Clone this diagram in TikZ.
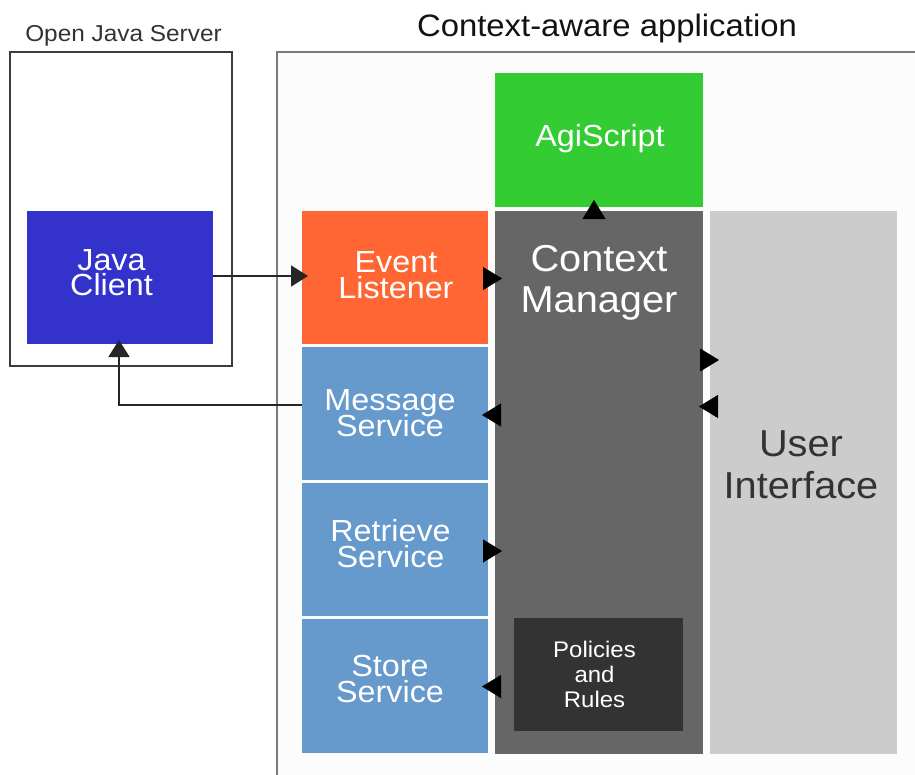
\documentclass[tikz,border=0pt]{standalone}
\usepackage{fontspec}
\setmainfont{Liberation Sans}[FakeStretch=1.06]
\usetikzlibrary{arrows.meta}

\definecolor{clientblue}{HTML}{3333CC}
\definecolor{agigreen}{HTML}{33CC33}
\definecolor{listenerorange}{HTML}{FF6633}
\definecolor{serviceblue}{HTML}{6699CC}
\definecolor{managergray}{HTML}{666666}
\definecolor{uigray}{HTML}{CCCCCC}
\definecolor{policydark}{HTML}{333333}
\definecolor{appfill}{HTML}{FCFCFC}
\definecolor{appline}{HTML}{7A7A7A}
\definecolor{serverline}{HTML}{3C3C3C}
\definecolor{uitext}{HTML}{333333}

% tight leading: let lines sit closer than their glyph boxes allow
\newcommand{\fsBox}{\fontsize{30.5}{25.5}\selectfont\lineskiplimit=-100pt}
\newcommand{\fsBig}{\fontsize{37.5}{40.5}\selectfont\lineskiplimit=-100pt}
\newcommand{\fsUI}{\fontsize{37.5}{42}\selectfont\lineskiplimit=-100pt}
\newcommand{\fsSmall}{\fontsize{22.6}{25}\selectfont\lineskiplimit=-100pt}
\newcommand{\fsTitle}{\fontsize{31}{36}\selectfont}
\newcommand{\fsServer}{\fontsize{23}{27}\selectfont}

\begin{document}
\begin{tikzpicture}[x=1pt,y=-1pt,
  block/.style={inner sep=0pt, outer sep=0pt, draw=none},
  lbl/.style={inner sep=0pt, align=center, text=white},
  head/.style={line width=0.4pt, -{Triangle[length=19pt,width=23pt]}},
  link/.style={draw=black!85, line width=1.9pt, -{Triangle[length=17pt,width=21pt]}}]

\useasboundingbox[fill=white] (0,0) rectangle (915,774);

% application frame: open to the right and bottom
\begin{scope}
  \clip (0,0) rectangle (915,774);
  \fill[appfill] (277,52) rectangle (930,790);
  \draw[appline, line width=2pt] (930,52) -- (277,52) -- (277,790);
\end{scope}
\node[font=\fsTitle, text=black!93, inner sep=0pt] (apptitle) at (607,28) {Context-aware application};

% server frame
\node[block, draw=serverline, line width=2pt, minimum width=222pt, minimum height=314pt] (server) at (121,209) {};
\node[font=\fsServer, text=uitext, inner sep=0pt] (servertitle) at (123.5,35.5) {Open Java Server};

% blocks
\node[block, fill=clientblue, minimum width=186pt, minimum height=133pt] (jc) at (120,277.5) {};
\node[block, fill=agigreen, minimum width=208pt, minimum height=134pt] (agi) at (599,140) {};
\node[block, fill=listenerorange, minimum width=186pt, minimum height=133pt] (el) at (395,277.5) {};
\node[block, fill=managergray, minimum width=208pt, minimum height=543pt] (cm) at (599,482.5) {};
\node[block, fill=uigray, minimum width=187pt, minimum height=543pt] (ui) at (803.5,482.5) {};
\node[block, fill=serviceblue, minimum width=186pt, minimum height=133pt] (ms) at (395,413.5) {};
\node[block, fill=serviceblue, minimum width=186pt, minimum height=133pt] (rs) at (395,549.5) {};
\node[block, fill=serviceblue, minimum width=186pt, minimum height=134pt] (ss) at (395,686) {};
\node[block, fill=policydark, minimum width=169pt, minimum height=113pt] (pr) at (598.5,674.5) {};

% block texts
\node[lbl, font=\fsBox] (jctext) at (111.5,272.5) {Java\\Client};
\node[lbl, font=\fsBox] (eltext) at (396,275) {Event\\Listener};
\node[lbl, font=\fsBox] (mstext) at (390,413) {Message\\Service};
\node[lbl, font=\fsBox] (rstext) at (390.5,543.5) {Retrieve\\Service};
\node[lbl, font=\fsBox] (sstext) at (390,679) {Store\\Service};
\node[lbl, font=\fsBox] (agitext) at (600,138.5) {AgiScript};
\node[lbl, font=\fsBig] (cmtext) at (599,282.7) {Context\\Manager};
\node[lbl, font=\fsUI, text=uitext] (uitext) at (801,464.5) {User\\Interface};
\node[lbl, font=\fsSmall] (prtext) at (594.5,674.5) {Policies\\and\\Rules};

% connectors to and from the server
\draw[link, shorten >=-6pt] ([yshift=1.5pt]jc.east) -- ([yshift=1.5pt]el.west);
\draw[link, shorten >=-4pt] ([yshift=8.5pt]ms.west) -| ([xshift=-1pt]jc.south);

% arrowheads between adjacent blocks
\draw[head, shorten >=-7pt] (el.east |- 0,278.5) -- (cm.west |- 0,278.5);
\draw[head, shorten >=-7pt] (cm.north -| 594,0) -- (agi.south -| 594,0);
\draw[head, shorten >=-9pt] (cm.east |- 0,360) -- (ui.west |- 0,360);
\draw[head, shorten >=-4pt] (ui.west |- 0,406.5) -- (cm.east |- 0,406.5);
\draw[head, shorten >=-6pt] (cm.west |- 0,415) -- (ms.east |- 0,415);
\draw[head, shorten >=-7pt] (rs.east |- 0,551) -- (cm.west |- 0,551);
\draw[head, shorten >=-6pt] (cm.west |- 0,686.5) -- (ss.east |- 0,686.5);
\end{tikzpicture}
\end{document}
